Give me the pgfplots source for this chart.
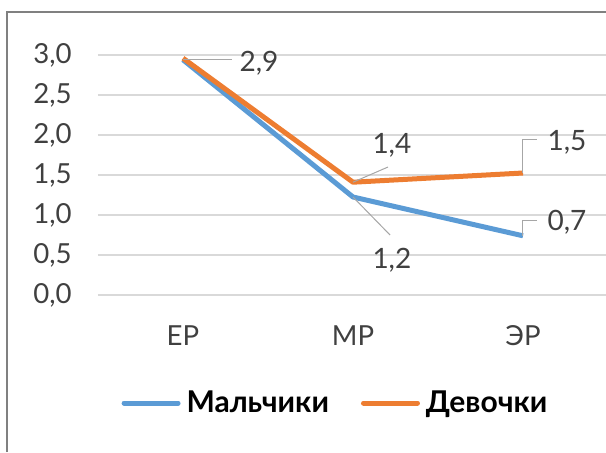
\documentclass[border=0pt]{standalone}
\usepackage{fontspec}
\setmainfont{Lato}
\usepackage{pgfplots}
\pgfplotsset{compat=1.18}
\definecolor{boys}{HTML}{5B9BD5}
\definecolor{girls}{HTML}{ED7D31}
\definecolor{txt}{HTML}{404040}
\definecolor{leader}{HTML}{A6A6A6}
\definecolor{gridc}{HTML}{D9D9D9}
\begin{document}
\begin{tikzpicture}
\useasboundingbox (0,0) rectangle (303pt,226pt);
% frame of the chart area
\draw[color=gray, line width=0.6pt] (3.5pt,0) -- (3.5pt,220pt) -- (303pt,220pt);
\begin{axis}[
    at={(49pt,78.5pt)},
    anchor=south west,
    scale only axis,
    width=255pt,
    height=120pt,
    xmin=-0.5, xmax=2.5,
    ymin=0, ymax=3,
    xtick={0,1,2},
    xticklabels={EP,MP,ЭР},
    ytick={0,0.5,...,3},
    ymajorgrids,
    grid style={gridc, line width=0.6pt},
    axis line style={draw=none},
    major tick length=0pt,
    tick label style={font=\fontsize{13.8}{15}\selectfont, text=txt},
    yticklabel style={inner sep=0pt, anchor=east, xshift=-13pt},
    xticklabel style={inner sep=0pt, anchor=north, yshift=-15pt},
    /pgf/number format/.cd, use comma, fixed, fixed zerofill, precision=1, assume math mode=true,
    /pgfplots/.cd,
    clip=false,
    legend columns=2,
    legend style={at={(0.4676,-0.45)}, anchor=center, draw=none, fill=none,
        font=\fontsize{15}{17}\selectfont\bfseries,
        /tikz/every odd column/.append style={column sep=1pt},
        /tikz/every even column/.append style={column sep=14pt}},
    legend image code/.code={\draw[#1, line cap=round] (0pt,0pt) -- (27pt,0pt);},
]
\addplot[boys, line width=2.5pt, line join=round] coordinates {
    (0,2.94) (1,1.225) (2,0.74)
};
\addlegendentry{Мальчики}
\addplot[girls, line width=2.5pt, line join=round] coordinates {
    (0,2.96) (1,1.41) (2,1.525)
};
\addlegendentry{Девочки}
% data labels with leader lines
\draw[leader, line width=0.5pt] (axis cs:0,2.95) -- (axis cs:0.29,2.95);
\node[text=txt, font=\fontsize{14}{16}\selectfont] at (axis cs:0.447,2.9) {2,9};
\draw[leader, line width=0.5pt] (axis cs:1,1.41) -- (axis cs:1.206,1.6);
\node[text=txt, font=\fontsize{14}{16}\selectfont] at (axis cs:1.229,1.875) {1,4};
\draw[leader, line width=0.5pt] (axis cs:1,1.225) -- (axis cs:1.218,0.75);
\node[text=txt, font=\fontsize{14}{16}\selectfont] at (axis cs:1.229,0.4375) {1,2};
\draw[leader, line width=0.5pt] (axis cs:2,1.525) -- (axis cs:2,1.94) -- (axis cs:2.082,1.94);
\node[text=txt, font=\fontsize{14}{16}\selectfont] at (axis cs:2.259,1.9125) {1,5};
\draw[leader, line width=0.5pt] (axis cs:2,0.74) -- (axis cs:2,0.9375) -- (axis cs:2.082,0.9375);
\node[text=txt, font=\fontsize{14}{16}\selectfont] at (axis cs:2.259,0.9125) {0,7};
\end{axis}
\end{tikzpicture}
\end{document}
